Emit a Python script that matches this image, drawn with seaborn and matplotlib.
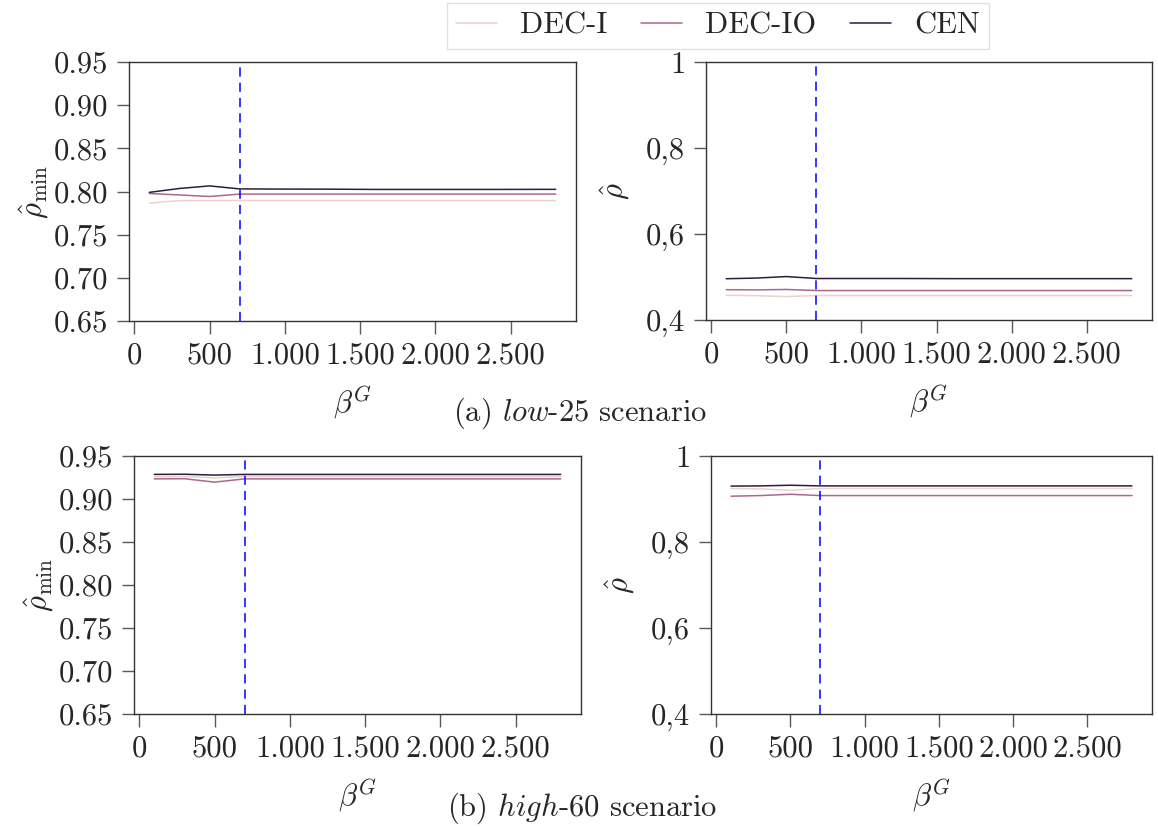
import numpy as np
import pandas as pd
import matplotlib
matplotlib.use("Agg")
import matplotlib.pyplot as plt
import seaborn as sns
from matplotlib.ticker import FuncFormatter, FixedLocator

# ---- data ----
beta = [100, 300, 500, 700, 1000, 1300, 1600, 2000, 2400, 2800]
methods = ["DEC-I", "DEC-IO", "CEN"]

low_rhomin_deci = [0.7865, 0.7895, 0.7895, 0.7895, 0.7895, 0.7895, 0.7895, 0.7895, 0.7895, 0.7895]
low_rhomin_decio = [0.7977, 0.7960, 0.7942, 0.7970, 0.7970, 0.7970, 0.7970, 0.7970, 0.7970, 0.7970]
low_rhomin_cen = [0.7990, 0.8035, 0.8065, 0.8030, 0.8028, 0.8027, 0.8024, 0.8024, 0.8024, 0.8025]

low_rho_deci = [0.4575, 0.4565, 0.4545, 0.4570, 0.4570, 0.4570, 0.4570, 0.4570, 0.4570, 0.4570]
low_rho_decio = [0.4705, 0.4700, 0.4710, 0.4685, 0.4685, 0.4685, 0.4685, 0.4685, 0.4685, 0.4685]
low_rho_cen = [0.4960, 0.4975, 0.5010, 0.4965, 0.4965, 0.4965, 0.4962, 0.4962, 0.4962, 0.4962]

high_rhomin_deci = [0.9258, 0.9262, 0.9245, 0.9262, 0.9262, 0.9262, 0.9262, 0.9262, 0.9262, 0.9262]
high_rhomin_decio = [0.9234, 0.9236, 0.9196, 0.9234, 0.9234, 0.9234, 0.9234, 0.9234, 0.9234, 0.9234]
high_rhomin_cen = [0.9286, 0.9288, 0.9278, 0.9286, 0.9286, 0.9286, 0.9286, 0.9286, 0.9286, 0.9286]

high_rho_deci = [0.9245, 0.9235, 0.9200, 0.9245, 0.9245, 0.9245, 0.9245, 0.9245, 0.9245, 0.9245]
high_rho_decio = [0.9065, 0.9080, 0.9110, 0.9080, 0.9080, 0.9080, 0.9080, 0.9080, 0.9080, 0.9080]
high_rho_cen = [0.9300, 0.9305, 0.9320, 0.9305, 0.9305, 0.9305, 0.9305, 0.9305, 0.9305, 0.9305]

threshold = 700

def long_df(a, b, c):
    rows = []
    for name, vals in zip(methods, [a, b, c]):
        for x, v in zip(beta, vals):
            rows.append({"beta": x, "value": v, "method": name})
    return pd.DataFrame(rows)

panels = [
    (long_df(low_rhomin_deci, low_rhomin_decio, low_rhomin_cen), "min"),
    (long_df(low_rho_deci, low_rho_decio, low_rho_cen), "rho"),
    (long_df(high_rhomin_deci, high_rhomin_decio, high_rhomin_cen), "min"),
    (long_df(high_rho_deci, high_rho_decio, high_rho_cen), "rho"),
]

sns.set_theme(style="ticks")
plt.rcParams["font.family"] = ["cmr10", "DejaVu Serif"]
plt.rcParams["mathtext.fontset"] = "cm"
plt.rcParams["axes.formatter.use_mathtext"] = True
plt.rcParams["axes.unicode_minus"] = False

palette = sns.cubehelix_palette(3)

fig = plt.figure(figsize=(11.58, 8.27), dpi=100)
W, H = 1158, 827
boxes = [
    (129, 62, 576, 321),
    (706, 62, 1152, 320),
    (134, 456, 581, 714),
    (711, 456, 1152, 714),
]
axes = []
for (l, t, r, b) in boxes:
    axes.append(fig.add_axes([l / W, 1 - b / H, (r - l) / W, (b - t) / H]))

fs = 22
thousands = FuncFormatter(lambda v, p: f"{int(v):,}".replace(",", "."))
for ax, (df, kind) in zip(axes, panels):
    sns.lineplot(data=df, x="beta", y="value", hue="method", hue_order=methods,
                 palette=palette, linewidth=1.1, ax=ax, legend=False)
    ax.axvline(threshold, color="blue", linestyle=(0, (6, 4)), linewidth=1.1)
    ax.xaxis.set_major_locator(FixedLocator([0, 500, 1000, 1500, 2000, 2500]))
    ax.xaxis.set_major_formatter(thousands)
    if kind == "min":
        ax.set_ylim(0.65, 0.95)
        ax.yaxis.set_major_locator(FixedLocator([0.65, 0.70, 0.75, 0.80, 0.85, 0.90, 0.95]))
        ax.yaxis.set_major_formatter(FuncFormatter(lambda v, p: f"{v:.2f}"))
        ax.set_ylabel(r"$\hat{\rho}_{\min}$", fontsize=fs, labelpad=2)
    else:
        ax.set_ylim(0.4, 1.0)
        ax.yaxis.set_major_locator(FixedLocator([0.4, 0.6, 0.8, 1.0]))
        ax.yaxis.set_major_formatter(FuncFormatter(
            lambda v, p: "1" if abs(v - 1) < 1e-9 else f"{v:.1f}".replace(".", ",")))
        ax.set_ylabel(r"$\hat{\rho}$", fontsize=fs, labelpad=10)
    ax.set_xlabel(r"$\beta^G$", fontsize=fs, labelpad=10)
    ax.tick_params(axis="both", labelsize=fs, length=9, width=1, color="0.35",
                   direction="out", pad=6)
    for s in ax.spines.values():
        s.set_linewidth(1.0)
        s.set_color("0.2")

fig.text(580 / W, 1 - 413 / H, r"(a) $\mathit{low}$-$\mathit{25}$ scenario",
         ha="center", va="center", fontsize=fs)
fig.text(582 / W, 1 - 808 / H, r"(b) $\mathit{high}$-$\mathit{60}$ scenario",
         ha="center", va="center", fontsize=fs)

handles = [plt.Line2D([], [], color=c, linewidth=1.1) for c in palette]
leg = fig.legend(handles, methods, loc="center", bbox_to_anchor=(718 / W, 1 - 26 / H),
                 ncol=3, fontsize=fs, frameon=True, fancybox=False,
                 handlelength=1.35, columnspacing=1.1, handletextpad=0.75, borderpad=0.3)
leg.get_frame().set_edgecolor("0.85")
leg.get_frame().set_linewidth(1.0)

fig.savefig("out.png", dpi=100)
